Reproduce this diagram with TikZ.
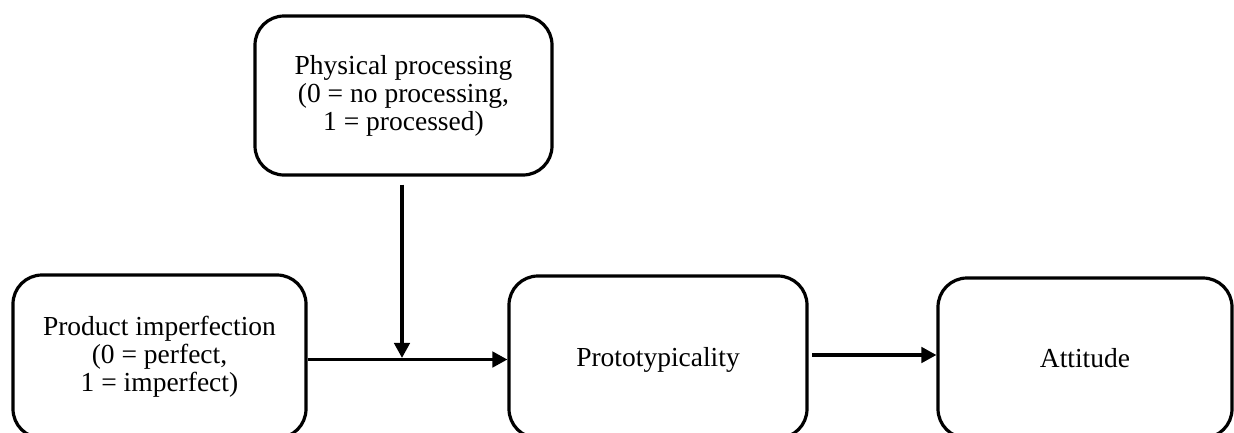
\documentclass[tikz,border=0pt]{standalone}
\usepackage{fontspec}
\setmainfont{Liberation Serif}
\usetikzlibrary{arrows.meta,calc}
\begin{document}
\begin{tikzpicture}[x=1pt,y=-1pt,
  box/.style={draw, line width=3.2pt, rounded corners=29pt, align=center, inner sep=0pt,
    font=\fontsize{27.5}{28}\selectfont},
  arr/.style={line width=3.2pt, -{Triangle[length=15pt,width=15.5pt]}}]
\clip (0,0) rectangle (1234,432);
\node[box, minimum width=297pt, minimum height=159pt] (phys) at (403.5,95.5)
  {Physical processing\\(0 = no processing,\\1 = processed)};
\node[box, minimum width=293pt, minimum height=163pt] (prod) at (159.5,356.5)
  {Product imperfection\\(0 = perfect,\\1 = imperfect)};
\node[box, minimum width=298pt, minimum height=162pt, text height=19pt, text depth=0pt] (proto) at (658,357)
  {Prototypicality};
\node[box, minimum width=294pt, minimum height=160pt, text height=19pt, text depth=0pt] (att) at (1085,358)
  {Attitude};
\coordinate (m) at (402,359.5);
\coordinate (n) at (812,355);
\draw[arr] (prod.east |- m) -- (proto.west |- m);
\draw[arr] ($(phys.south -| m)+(0,8)$) -- ($(m)+(0,-1.6)$);
\draw[arr] (n) -- (att.west |- n);
\end{tikzpicture}
\end{document}
